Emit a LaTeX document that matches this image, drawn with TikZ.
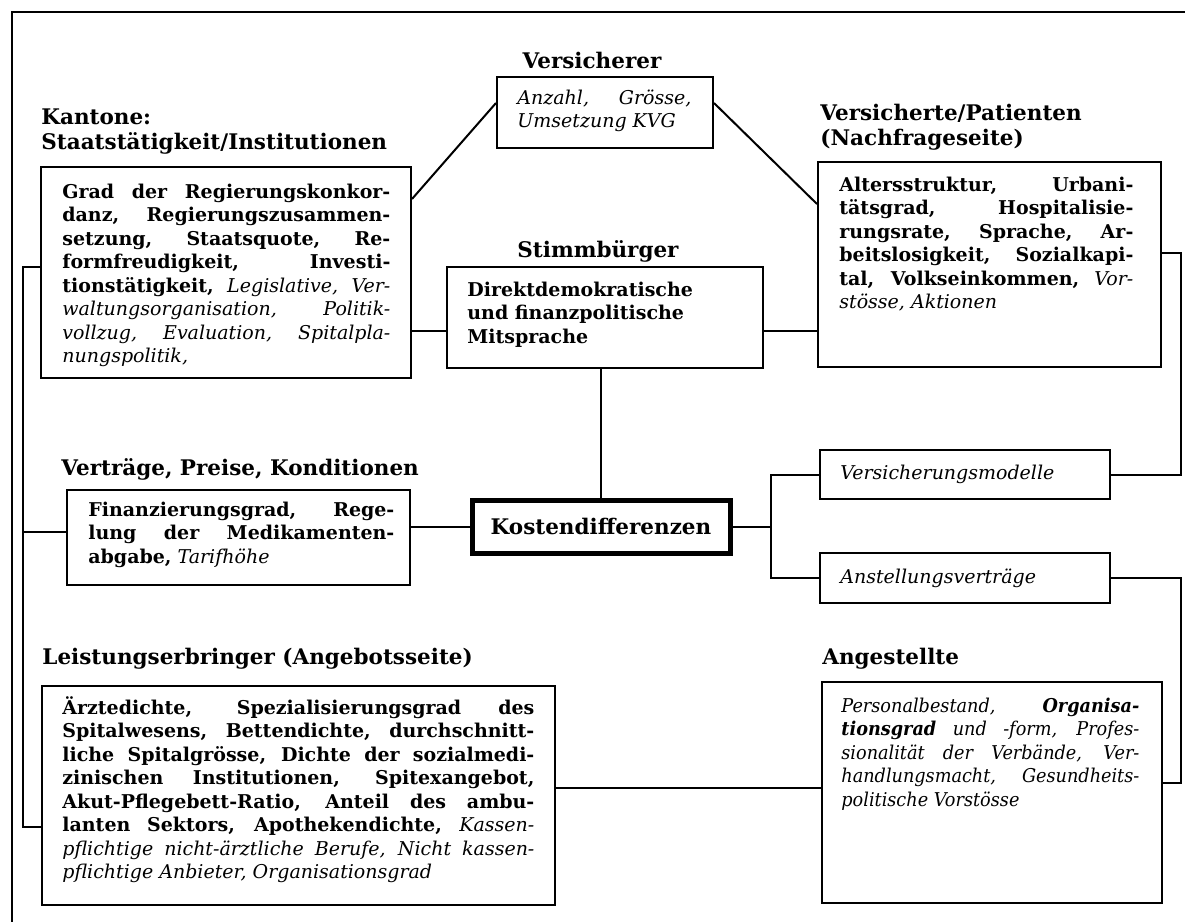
\documentclass[tikz,border=0pt]{standalone}
\usepackage{fontspec}
\setmainfont{DejaVu Serif}
\usetikzlibrary{fit}
\newcommand\bodyfont{\fontsize{9.5}{11.75}\selectfont}
\newcommand\ttlfont{\fontsize{10.75}{12.5}\selectfont\bfseries}
\newcommand\fststrut{\rule{0pt}{9pt}}
\newcommand\tstrut{\rule{0pt}{10pt}}
\newcommand\jset{\tolerance=10000\hbadness=10000\hyphenpenalty=10000\exhyphenpenalty=10000\parindent=0pt}
\begin{document}
\begin{tikzpicture}[x=0.5pt,y=-0.5pt,
  bx/.style={draw, line width=1pt, inner sep=0pt},
  body/.style={anchor=north west, inner sep=0pt, text width=#1, align=justify, font=\bodyfont},
  ttl/.style={anchor=north west, inner sep=0pt, align=left, font=\ttlfont},
  ln/.style={line width=1pt}]
\useasboundingbox (0,0) rectangle (1185,922);
% frame
\draw[ln] (12,922) -- (12,12) -- (1185,12);
% boxes
\node[bx, fit={(41,167) (411,378)}] (kbox) {};
\node[bx, fit={(497,77) (713,148)}] (vbox) {};
\node[bx, fit={(447,267) (763,368)}] (sbox) {};
\node[bx, fit={(818,162) (1161,367)}] (vsbox) {};
\node[bx, fit={(67,490) (410,585)}] (tbox) {};
\node[draw, line width=2.5pt, inner sep=0pt, fit={(472,500) (730,553)}] (kdbox) {};
\node[bx, fit={(820,450) (1110,499)}] (vmbox) {};
\node[bx, fit={(820,553) (1110,603)}] (abox) {};
\node[bx, fit={(42,686) (555,905)}] (lbox) {};
\node[bx, fit={(822,682) (1162,903)}] (agbox) {};
% titles
\node[ttl, anchor=base] (tv) at (592,68) {Versicherer};
\node[ttl] (tk) at (41,104) {\tstrut Kantone:\\Staatstätigkeit/Institutionen};
\node[ttl] (tvs) at (820,100) {\tstrut Versicherte/Patienten\\(Nachfrageseite)};
\node[ttl, anchor=base] (ts) at (598,257) {Stimmbürger};
\node[ttl, anchor=base west] (tt) at (61,475) {Verträge, Preise, Konditionen};
\node[ttl, anchor=base west] (tl) at (42,664) {Leistungserbringer (Angebotsseite)};
\node[ttl, anchor=base west] (ta) at (822,664) {Angestellte};
% texts
\node[body=164pt] (ktxt) at (62,180) {\jset\fststrut\textbf{Grad der Regierungskonkor-}\linebreak
\textbf{danz, Regierungszusammen-}\linebreak
\textbf{setzung, Staatsquote, Re-}\linebreak
\textbf{formfreudigkeit, Investi-}\linebreak
\textbf{tionstätigkeit,} \textit{Legislative, Ver-}\linebreak
\textit{waltungsorganisation, Politik-}\linebreak
\textit{vollzug, Evaluation, Spitalpla-}\linebreak
\textit{nungspolitik,}};
\node[body=87pt] (vtxt) at (517,86) {\jset\fststrut\textit{Anzahl, Grösse,}\linebreak
\textit{Umsetzung KVG}};
\node[anchor=north west, inner sep=0pt, align=left, font=\bodyfont\bfseries] (stxt) at (467,278) {\fststrut Direktdemokratische\\und finanzpolitische\\Mitsprache};
\node[body=147pt] (vstxt) at (839,173) {\jset\fststrut\textbf{Altersstruktur, Urbani-}\linebreak
\textbf{tätsgrad, Hospitalisie-}\linebreak
\textbf{rungsrate, Sprache, Ar-}\linebreak
\textbf{beitslosigkeit, Sozialkapi-}\linebreak
\textbf{tal, Volkseinkommen,} \textit{Vor-}\linebreak
\textit{stösse, Aktionen}};
\node[body=153pt] (ttxt) at (88,498) {\jset\fststrut\textbf{Finanzierungsgrad, Rege-}\linebreak
\textbf{lung der Medikamenten-}\linebreak
\textbf{abgabe,} \textit{Tarifhöhe}};
\node[font=\ttlfont, inner sep=0pt] (kdtxt) at (kdbox.center) {Kostendifferenzen};
\node[anchor=west, inner sep=0pt, font=\bodyfont\itshape] (vmtxt) at (840,474.5) {Versicherungsmodelle};
\node[anchor=west, inner sep=0pt, font=\bodyfont\itshape] (atxt) at (840,578) {Anstellungsverträge};
\node[body=236pt] (ltxt) at (62,696) {\jset\fststrut\textbf{Ärztedichte, Spezialisierungsgrad des}\linebreak
\textbf{Spitalwesens, Bettendichte, durchschnitt-}\linebreak
\textbf{liche Spitalgrösse, Dichte der sozialmedi-}\linebreak
\textbf{zinischen Institutionen, Spitexangebot,}\linebreak
\textbf{Akut-Pflegebett-Ratio, Anteil des ambu-}\linebreak
\textbf{lanten Sektors, Apothekendichte,} \textit{Kassen-}\linebreak
\textit{pflichtige nicht-ärztliche Berufe, Nicht kassen-}\linebreak
\textit{pflichtige Anbieter, Organisationsgrad}};
\node[body=149pt] (agtxt) at (841,694) {\jset\addfontfeatures{FakeStretch=0.93}\fststrut\textit{Personalbestand,} \textbf{\textit{Organisa-}}\linebreak
\textbf{\textit{tionsgrad}} \textit{und -form, Profes-}\linebreak
\textit{sionalität der Verbände, Ver-}\linebreak
\textit{handlungsmacht, Gesundheits-}\linebreak
\textit{politische Vorstösse}};
% connectors
\draw[ln] ([yshift=-16.5pt]kbox.north east) -- ([yshift=4.75pt]vbox.west);
\draw[ln] ([yshift=4.75pt]vbox.east) -- ([yshift=-21.5pt]vsbox.north west);
\draw[ln] ([yshift=-29.25pt]kbox.east) -- ([yshift=-29.25pt]kbox.east -| sbox.west);
\draw[ln] ([yshift=-6.75pt]sbox.east) -- ([yshift=-6.75pt]sbox.east -| vsbox.west);
\draw[ln] (kdbox.north) -- (kdbox.north |- sbox.south);
\draw[ln] (kdbox.west) -- (kdbox.west -| tbox.east);
\draw[ln] (kdbox.east) -- ++(38,0) coordinate (j1);
\draw[ln] (vmbox.west) -| (j1) |- (abox.west);
\draw[ln] ([yshift=5.75pt]vsbox.east) -- ++(19,0) |- (vmbox.east);
\draw[ln] (abox.east) -- ++(70,0) |- ([yshift=4.75pt]agbox.east);
\draw[ln] ([yshift=3.75pt]lbox.east) -- ([yshift=3.75pt]lbox.east -| agbox.west);
\draw[ln] ([yshift=2.75pt]kbox.west) -- ++(-17,0) coordinate (bus) |- ([yshift=-15.75pt]lbox.west);
\draw[ln] ([yshift=2.75pt]tbox.west) -- ([yshift=2.75pt]tbox.west -| bus);
\end{tikzpicture}
\end{document}
